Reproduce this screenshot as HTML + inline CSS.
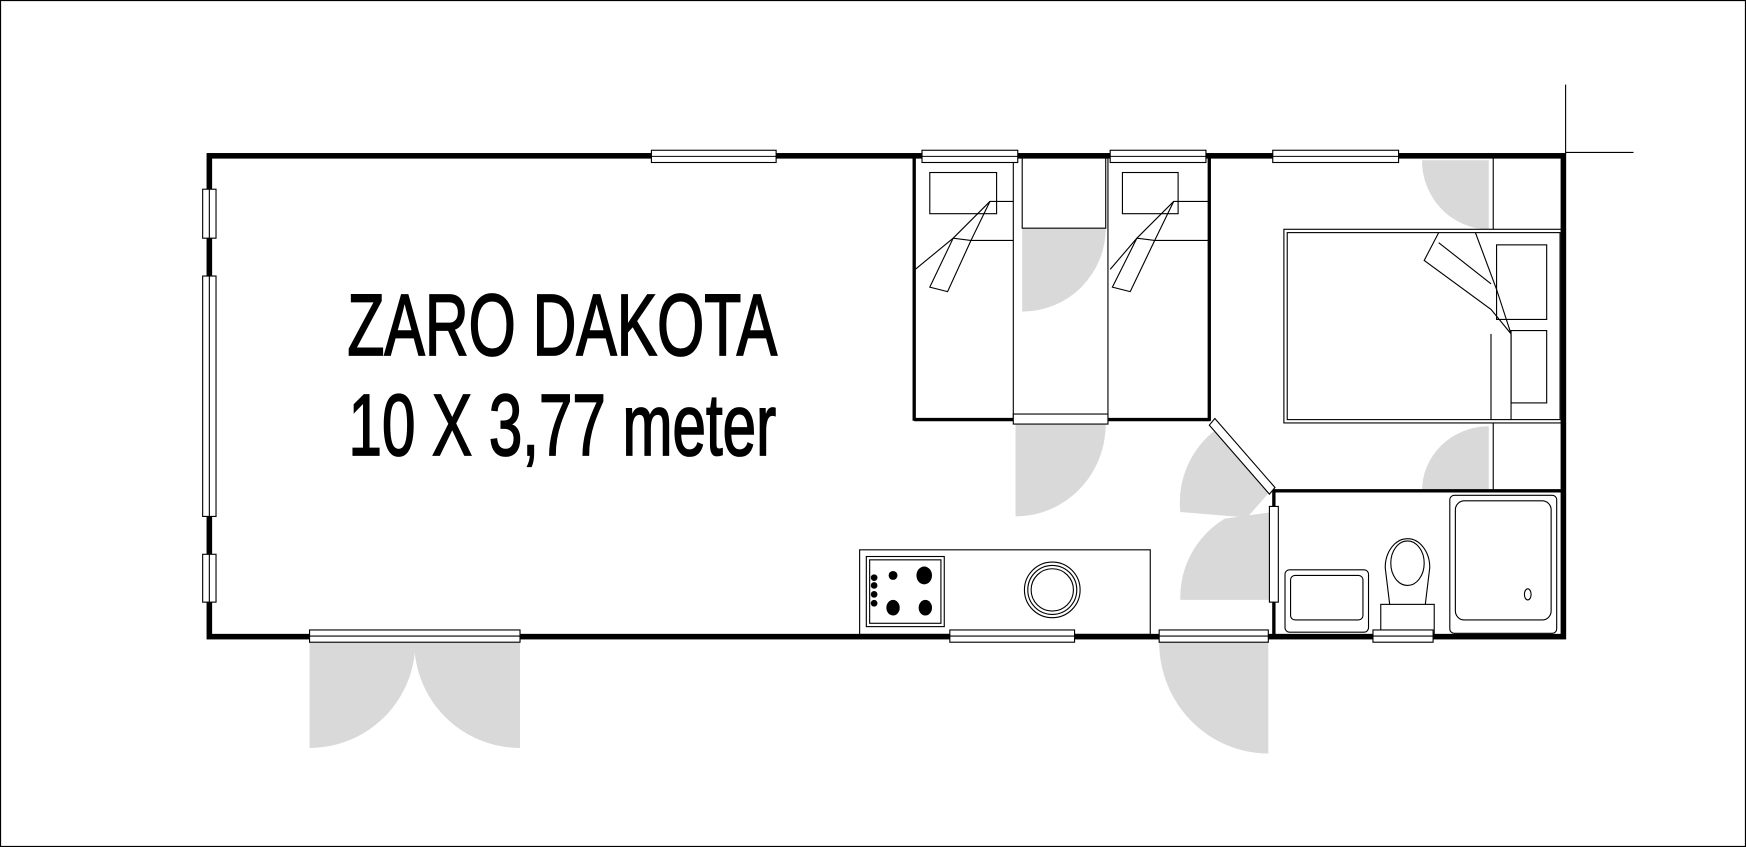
<!DOCTYPE html>
<html><head><style>html,body{margin:0;padding:0;background:#fff;}svg{display:block;}</style></head>
<body>
<svg width="1746" height="847" viewBox="0 0 1568 761" preserveAspectRatio="none" xmlns="http://www.w3.org/2000/svg">
<rect x="0" y="0" width="1568" height="761" fill="#fff"/>
<rect x="0.5" y="0.5" width="1567" height="760" fill="none" stroke="#000" stroke-width="1"/>
<g fill="#d9d9d9" stroke="none">
<path d="M918,205 L993,205 A75,75 0 0 1 918,280 Z"/>
<path d="M912,381 L993,381 A81,83 0 0 1 912,464 Z"/>
<path d="M278,577 L373,577 A95,95 0 0 1 278,672 Z"/>
<path d="M467,577 L372,577 A95,95 0 0 0 467,672 Z"/>
<path d="M1139,577 L1041,577 A98,100 0 0 0 1139,677 Z"/>
<path d="M1141,441 L1092,386 A82,82 0 0 0 1060,460 L1120,465 Z"/>
<path d="M1143,539 L1060,539 A82,82 0 0 1 1100,466 L1143,460 Z"/>
<path d="M1337,144 L1277,144 A60,62 0 0 0 1337,206 Z"/>
<path d="M1337,441 L1277,441 A60,58 0 0 1 1337,383 Z"/>
</g>
<g fill="none" stroke="#000">
<rect x="188" y="140" width="1216" height="432" stroke-width="5"/>
<line x1="1406" y1="76" x2="1406" y2="138" stroke-width="1"/>
<line x1="1406" y1="137" x2="1467" y2="137" stroke-width="1"/>
<line x1="821" y1="140" x2="821" y2="378" stroke-width="3"/>
<line x1="821" y1="377" x2="910" y2="377" stroke-width="3"/>
<line x1="995" y1="377" x2="1087" y2="377" stroke-width="3"/>
<line x1="1086" y1="140" x2="1086" y2="378" stroke-width="3"/>
<line x1="910" y1="140" x2="910" y2="377" stroke-width="1"/>
<line x1="995" y1="140" x2="995" y2="377" stroke-width="1"/>
<rect x="910" y="372" width="85" height="9" stroke-width="1" fill="#fff"/>
<rect x="918" y="140" width="75" height="65" stroke-width="1"/>
<rect x="835" y="155" width="60" height="37" stroke-width="1"/>
<rect x="1008" y="155" width="50" height="37" stroke-width="1"/>
<g stroke-width="1">
<polyline points="910,181 889,181 872,216 910,216"/>
<polyline points="822,242 856,214 889,181"/>
<polygon points="856,214 835,258 851,262 872,216"/>
<polyline points="1085,181 1054,181 1037,216 1085,216"/>
<polyline points="997,242 1021,214 1054,181"/>
<polygon points="1021,214 999,258 1015,262 1037,216"/>
</g>
<rect x="1153" y="206" width="251" height="174" stroke-width="1"/>
<rect x="1156" y="209" width="245" height="168" stroke-width="1"/>
<line x1="1341" y1="140" x2="1341" y2="206" stroke-width="1"/>
<line x1="1341" y1="380" x2="1341" y2="441" stroke-width="1"/>
<line x1="1339" y1="300" x2="1339" y2="377" stroke-width="1"/>
<line x1="1357" y1="300" x2="1357" y2="377" stroke-width="1"/>
<rect x="1344" y="220" width="45" height="67" stroke-width="1"/>
<rect x="1357" y="297" width="32" height="65" stroke-width="1"/>
<polyline points="1292,209 1279,234 1339,278 1357,300 1344,260 1325,209" stroke-width="1"/>
<line x1="1292" y1="218" x2="1339" y2="255" stroke-width="1"/>
<line x1="1143" y1="441" x2="1404" y2="441" stroke-width="3"/>
<line x1="1144" y1="441" x2="1144" y2="572" stroke-width="3"/>
<rect x="1140" y="455" width="8" height="86" stroke-width="1" fill="#fff"/>
<polygon points="1086,382 1091,376 1145,438 1140,444" stroke-width="1" fill="#fff"/>
<rect x="1154" y="512" width="75" height="56" rx="4" stroke-width="1"/>
<rect x="1159" y="517" width="65" height="40" rx="4" stroke-width="1"/>
<path d="M1248,543 L1244,510 A20,26 0 1 1 1284,510 L1280,543" stroke-width="1"/>
<ellipse cx="1264" cy="506" rx="15" ry="20" stroke-width="1"/>
<rect x="1240" y="543" width="48" height="26" stroke-width="1" fill="#fff"/>
<rect x="1302" y="445" width="96" height="124" rx="4" stroke-width="1"/>
<rect x="1307" y="450" width="86" height="107" rx="8" stroke-width="1"/>
<ellipse cx="1372" cy="534" rx="3" ry="5" stroke-width="1"/>
<rect x="772" y="494" width="261" height="76" stroke-width="1"/>
<rect x="778" y="500" width="70" height="63" stroke-width="1"/>
<rect x="781" y="503" width="64" height="57" stroke-width="1"/>
<circle cx="945" cy="530" r="25" stroke-width="1"/>
<circle cx="945" cy="530" r="22" stroke-width="1"/>
<circle cx="945" cy="530" r="19" stroke-width="1"/>
</g>
<g fill="#000">
<circle cx="785" cy="519" r="3"/><circle cx="785" cy="526" r="3"/><circle cx="785" cy="534" r="3"/><circle cx="785" cy="542" r="3"/>
<circle cx="802" cy="517" r="4"/><ellipse cx="830" cy="517" rx="7" ry="8"/>
<ellipse cx="802" cy="546" rx="6" ry="7"/><ellipse cx="831" cy="546" rx="6" ry="7"/>
</g>
<g fill="#fff" stroke="#000" stroke-width="1">
<rect x="585" y="135" width="112" height="11"/><line x1="585" y1="140.5" x2="697" y2="140.5"/>
<rect x="828" y="135" width="86" height="11"/><line x1="828" y1="140.5" x2="914" y2="140.5"/>
<rect x="997" y="135" width="86" height="11"/><line x1="997" y1="140.5" x2="1083" y2="140.5"/>
<rect x="1143" y="135" width="113" height="11"/><line x1="1143" y1="140.5" x2="1256" y2="140.5"/>
<rect x="182" y="170" width="12" height="44"/><line x1="188" y1="170" x2="188" y2="214"/>
<rect x="182" y="248" width="12" height="216"/><line x1="188" y1="248" x2="188" y2="464"/>
<rect x="182" y="498" width="12" height="43"/><line x1="188" y1="498" x2="188" y2="541"/>
<rect x="278" y="566" width="189" height="11"/><line x1="278" y1="571.5" x2="467" y2="571.5"/>
<rect x="853" y="566" width="112" height="11"/><line x1="853" y1="571.5" x2="965" y2="571.5"/>
<rect x="1041" y="566" width="98" height="11"/><line x1="1041" y1="571.5" x2="1139" y2="571.5"/>
<rect x="1233" y="566" width="54" height="11"/><line x1="1233" y1="571.5" x2="1287" y2="571.5"/>
</g>
<g fill="#000" stroke="#000" stroke-width="1.6" font-family="Liberation Sans, sans-serif" font-size="78">
<text x="312" y="319" textLength="386" lengthAdjust="spacingAndGlyphs">ZARO DAKOTA</text>
<text x="313" y="409" textLength="384" lengthAdjust="spacingAndGlyphs">10 X 3,77 meter</text>
</g>
</svg>
</body></html>
